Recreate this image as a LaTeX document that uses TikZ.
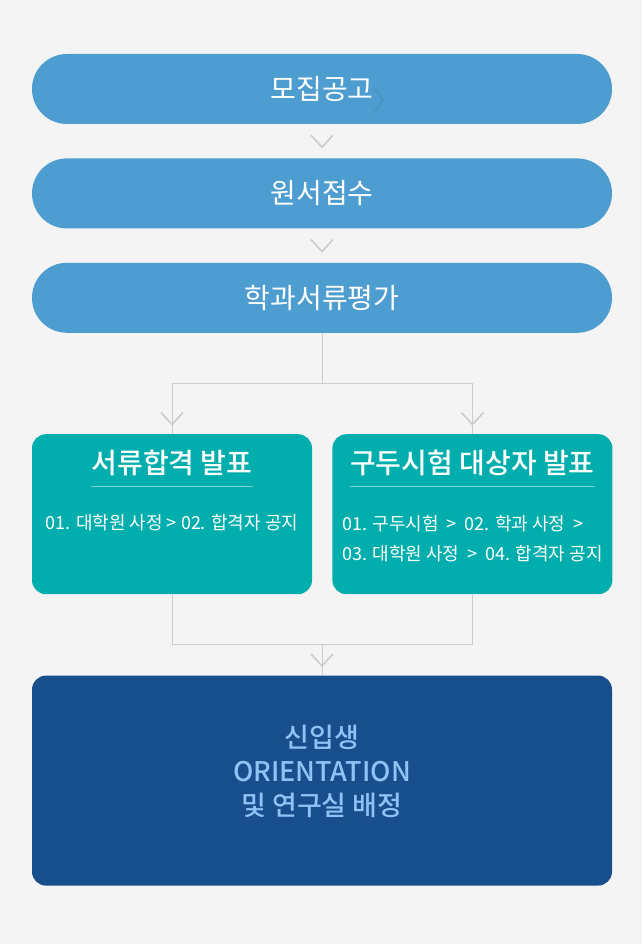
\documentclass[tikz,border=0pt]{standalone}
\usepackage{fontspec}
\setmainfont{Noto Sans CJK KR}
\newfontfamily\medfont{Noto Sans CJK KR Medium}
\usetikzlibrary{positioning}
\definecolor{stepblue}{RGB}{77,157,208}
\definecolor{passteal}{RGB}{2,174,173}
\definecolor{orientnavy}{RGB}{23,78,140}
\definecolor{orientlight}{RGB}{142,196,245}
\definecolor{pagegray}{RGB}{244,244,244}
\definecolor{linkgray}{RGB}{204,204,204}
\definecolor{rulelight}{RGB}{120,212,212}

\begin{document}
\begin{tikzpicture}[x=1pt, y=1pt, node distance=34pt]
    % Styles
    \tikzstyle{stepbox} = [rectangle, fill=stepblue, minimum width=580pt, minimum height=70pt,
        rounded corners=34.9pt, text=white, font=\fontsize{28}{32}\selectfont]
    \tikzstyle{resultbox} = [rectangle, fill=passteal, minimum width=280pt, minimum height=160pt,
        rounded corners=14pt]
    \tikzstyle{finalbox} = [rectangle, fill=orientnavy, minimum width=580pt, minimum height=210pt,
        rounded corners=14pt]
    \tikzstyle{boxtitle} = [text=white, inner sep=0pt, font=\medfont\fontsize{28}{32}\selectfont]
    \tikzstyle{boxtext} = [text=white, align=left, inner sep=0pt, font=\fontsize{18}{30}\selectfont]
    \tikzstyle{finaltext} = [text=orientlight, align=center, inner sep=0pt,
        font=\medfont\fontsize{27}{34}\selectfont]
    \tikzstyle{titlerule} = [rulelight, line width=0.8pt]
    \tikzstyle{link} = [draw=linkgray, line width=1pt]
    \tikzset{chev/.pic={\draw[linkgray, line width=1.6pt] (-11,6) -- (0,-6) -- (11,6);}}

    % Page
    \fill[pagegray] (0,0) rectangle (642,-944);
    \useasboundingbox (0,0) rectangle (642,-944);

    % Nodes
    \node [stepbox] (recruit) at (322,-89) {모집공고};
    \node [stepbox, below=of recruit] (apply) {원서접수};
    \node [stepbox, below=of apply] (review) {학과서류평가};
    \node [resultbox, below=101pt of review.south west, anchor=north west] (docpass) {};
    \node [resultbox, right=20pt of docpass] (oral) {};
    \node [finalbox, below=81pt of docpass.south west, anchor=north west] (orient) {};

    \node [boxtitle] (docpassTitle) at ([yshift=-29pt]docpass.north) {서류합격 발표};
    \node [boxtitle] (oralTitle) at ([yshift=-29pt]oral.north) {구두시험 대상자 발표};
    \draw [titlerule] ([yshift=-23pt]docpassTitle.west) -- ([yshift=-23pt]docpassTitle.east);
    \draw [titlerule] ([yshift=-23pt]oralTitle.west) -- ([yshift=-23pt]oralTitle.east);
    \node [boxtext] (docpassText) at ([yshift=-89pt]docpass.north)
        {01. 대학원 사정 > 02. 합격자 공지};
    \node [boxtext] (oralText) at ([yshift=-105pt]oral.north)
        {01. 구두시험 \ > \ 02. 학과 사정 \ >\\03. 대학원 사정 \ > \ 04. 합격자 공지};
    \node [finaltext] (orientText) at ([yshift=-96pt]orient.north)
        {신입생\\ORIENTATION\\및 연구실 배정};

    % faint mark in the first step
    \draw [black, opacity=0.07, line width=1.5pt] ([shift={(53,1)}]recruit.center)
        -- ([shift={(61,-11)}]recruit.center) -- ([shift={(53,-23)}]recruit.center);

    % Arrows
    \pic at ([yshift=-17pt]recruit.south) {chev};
    \pic at ([yshift=-17pt]apply.south) {chev};

    \coordinate (split) at ([yshift=-50pt]review.south);
    \coordinate (merge) at ([yshift=31pt]orient.north);
    \draw [link] (review.south) -- (split);
    \draw [link] (split) -| (docpass.north);
    \draw [link] (split) -| (oral.north);
    \draw [link] (docpass.south) |- (merge);
    \draw [link] (oral.south) |- (merge);
    \draw [link] (merge) -- (orient.north);
    \pic at ([yshift=15.5pt]docpass.north) {chev};
    \pic at ([yshift=15.5pt]oral.north) {chev};
    \pic at ([yshift=15.5pt]orient.north) {chev};
\end{tikzpicture}
\end{document}
